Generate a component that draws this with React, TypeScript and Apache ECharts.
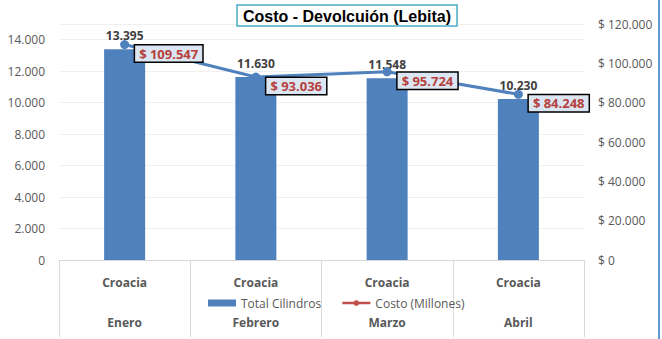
import React, { useEffect, useRef } from "react";
import * as echarts from "echarts";

const countries = ["Croacia", "Croacia", "Croacia", "Croacia"];
const months = ["Enero", "Febrero", "Marzo", "Abril"];
const totalCilindros = [13395, 11630, 11548, 10230];
const costoMillones = [109547, 93036, 95724, 84248];
const leftTicks = [0, 2000, 4000, 6000, 8000, 10000, 12000, 14000];

const fmt = (v: number) => String(Math.round(v)).replace(/\B(?=(\d{3})+(?!\d))/g, ".");

export default function App() {
  const ref = useRef<HTMLDivElement>(null);
  useEffect(() => {
    const chart = echarts.init(ref.current!, null, { renderer: "svg" });
    const font = "'Open Sans', 'Liberation Sans', sans-serif";
    const grey = "#595959";
    chart.setOption({
      animation: false,
      backgroundColor: "#ffffff",
      textStyle: { fontFamily: font },
      title: {
        text: "Costo - Devolcuión (Lebita)",
        left: 237,
        top: 5,
        padding: [3, 6, 2, 6],
        borderColor: "#4bacc6",
        borderWidth: 1.5,
        backgroundColor: "#ffffff",
        textStyle: { fontFamily: "'Liberation Sans Narrow', 'Liberation Sans', Arial, sans-serif", fontWeight: "bold", fontSize: 16, color: "#000" },
      },
      legend: {
        left: 203,
        top: 292,
        itemWidth: 28,
        itemHeight: 7,
        itemGap: 20,
        textStyle: { color: grey, fontSize: 12, fontFamily: font },
        data: [
          { name: "Total Cilindros", icon: "rect", itemStyle: { color: "#4f81bd" } },
          { name: "Costo (Millones)", itemStyle: { color: "#c0504d" }, lineStyle: { color: "#c0504d", width: 2.5 } },
        ],
      },
      grid: { left: 59, right: 78, top: 24, bottom: 79 },
      xAxis: [
        {
          type: "category",
          data: countries,
          position: "bottom",
          axisLine: { lineStyle: { color: "#d9d9d9" } },
          axisTick: { show: true, length: 77, lineStyle: { color: "#d9d9d9" } },
          axisLabel: { color: grey, fontWeight: "bold", fontSize: 12, margin: 16, fontFamily: font },
        },
        {
          type: "category",
          data: months,
          position: "bottom",
          axisLine: { show: false },
          axisTick: { show: false },
          axisLabel: { color: grey, fontWeight: "bold", fontSize: 12, margin: 56, fontFamily: font },
        },
      ],
      yAxis: [
        {
          type: "value",
          min: 0,
          max: 15000,
          interval: 2000,
          axisLine: { show: false },
          axisTick: { show: false },
          splitLine: { lineStyle: { color: "#f0f0f0" } },
          axisLabel: {
            color: grey,
            fontSize: 12,
            margin: 14,
            fontFamily: font,
            formatter: (v: number) => (leftTicks.includes(v) ? fmt(v) : ""),
          },
        },
        {
          type: "value",
          min: 0,
          max: 120000,
          interval: 20000,
          position: "right",
          axisLine: { show: false },
          axisTick: { show: false },
          splitLine: { show: false },
          axisLabel: {
            color: grey,
            fontSize: 12,
            margin: 14,
            fontFamily: font,
            formatter: (v: number) => "$ " + fmt(v),
          },
        },
      ],
      series: [
        {
          name: "Total Cilindros",
          type: "bar",
          data: totalCilindros,
          barWidth: 41,
          itemStyle: { color: "#4f81bd" },
          label: {
            show: true,
            position: "top",
            distance: 8,
            color: "#404040",
            fontWeight: "bold",
            fontSize: 12,
            fontFamily: font,
            formatter: (p: any) => fmt(p.value),
          },
        },
        {
          name: "Costo (Millones)",
          type: "line",
          yAxisIndex: 1,
          data: costoMillones,
          symbol: "circle",
          symbolSize: 9,
          lineStyle: { color: "#4f81bd", width: 3 },
          itemStyle: { color: "#4f81bd" },
          label: {
            show: true,
            position: "right",
            distance: 6,
            offset: [0, 9],
            color: "#b5403c",
            fontWeight: "bold",
            fontSize: 13,
            fontFamily: font,
            backgroundColor: "#dce6f2",
            borderColor: "#000000",
            borderWidth: 1.5,
            padding: [2, 4, 1, 4],
            formatter: (p: any) => "$ " + fmt(p.value),
          },
        },
      ],
      graphic: [
        {
          type: "line",
          shape: { x1: 659, y1: 0, x2: 659, y2: 339 },
          style: { stroke: "#5b9bd5", lineWidth: 2 },
        },
      ],
    });
    return () => chart.dispose();
  }, []);
  return <div ref={ref} style={{ width: 662, height: 339, position: "fixed", left: 0, top: 0 }} />;
}
